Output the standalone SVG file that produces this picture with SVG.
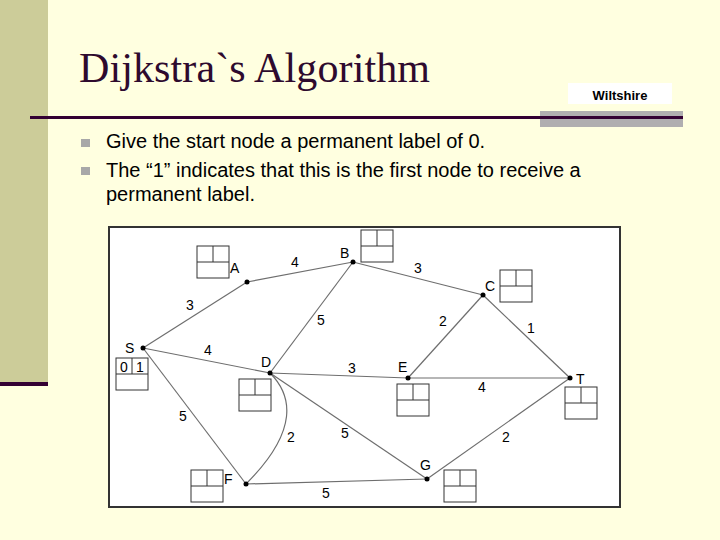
<svg xmlns="http://www.w3.org/2000/svg" width="720" height="540" viewBox="0 0 720 540">
<style>
.edge{fill:none;stroke:#6e6e6e;stroke-width:1.2}
.dot{fill:#000}
.lbl{font-family:"Liberation Sans",Arial,sans-serif;font-size:14px;fill:#000}
.w{font-family:"Liberation Sans",Arial,sans-serif;font-size:14px;fill:#000;text-anchor:middle}
.box{fill:#fff;stroke:#333;stroke-width:1}
.bt{font-family:"Liberation Sans",Arial,sans-serif;font-size:20px;fill:#000}
</style>
<defs>
<g id="lb">
<rect class="box" x="0" y="0" width="32" height="32"/>
<line x1="0" y1="16" x2="32" y2="16" stroke="#333" stroke-width="1"/>
<line x1="16" y1="0" x2="16" y2="16" stroke="#333" stroke-width="1"/>
</g>
</defs>
<rect x="0" y="0" width="720" height="540" fill="#FFFFE0"/>
<rect x="0" y="0" width="48" height="382" fill="#CCCC99"/>
<rect x="0" y="382" width="48" height="4" fill="#330033"/>
<text x="79" y="82" font-family="'Liberation Serif','Times New Roman',serif" font-size="42" fill="#2E0A2E" textLength="351">Dijkstra`s Algorithm</text>
<rect x="568" y="83" width="104" height="21" fill="#fff"/>
<text x="620" y="100" text-anchor="middle" font-family="'Liberation Sans',Arial,sans-serif" font-size="13" font-weight="bold" fill="#000">Wiltshire</text>
<rect x="540" y="111" width="143" height="16" fill="#B0AEB0"/>
<rect x="30" y="116" width="653" height="3" fill="#330033"/>
<rect x="81" y="139" width="9" height="8" fill="#A8A8A8"/>
<rect x="81" y="167" width="9" height="8" fill="#A8A8A8"/>
<text class="bt" x="106" y="148">Give the start node a permanent label of 0.</text>
<text class="bt" x="106" y="177">The “1” indicates that this is the first node to receive a</text>
<text class="bt" x="106" y="201">permanent label.</text>
<rect x="109" y="227" width="511" height="280" fill="#fff" stroke="#333" stroke-width="2"/>
<g id="edges">
<line class="edge" x1="143" y1="348" x2="247" y2="282"/>
<line class="edge" x1="247" y1="282" x2="353" y2="262"/>
<line class="edge" x1="143" y1="348" x2="270" y2="373"/>
<line class="edge" x1="353" y1="262" x2="270" y2="373"/>
<line class="edge" x1="353" y1="262" x2="483" y2="295"/>
<line class="edge" x1="483" y1="295" x2="408" y2="378"/>
<line class="edge" x1="483" y1="295" x2="570" y2="378"/>
<line class="edge" x1="270" y1="373" x2="408" y2="378"/>
<line class="edge" x1="408" y1="378" x2="570" y2="378"/>
<line class="edge" x1="143" y1="348" x2="246" y2="484"/>
<path class="edge" d="M270,373 C292,395 300,430 246,484"/>
<line class="edge" x1="270" y1="373" x2="427" y2="479"/>
<line class="edge" x1="427" y1="479" x2="570" y2="378"/>
<line class="edge" x1="246" y1="484" x2="427" y2="479"/>
<text class="w" x="190" y="310">3</text>
<text class="w" x="295" y="267">4</text>
<text class="w" x="208" y="355">4</text>
<text class="w" x="321" y="325">5</text>
<text class="w" x="418" y="273">3</text>
<text class="w" x="443" y="326">2</text>
<text class="w" x="531" y="333">1</text>
<text class="w" x="352" y="373">3</text>
<text class="w" x="482" y="392">4</text>
<text class="w" x="183" y="421">5</text>
<text class="w" x="291" y="442">2</text>
<text class="w" x="345" y="438">5</text>
<text class="w" x="506" y="442">2</text>
<text class="w" x="326" y="498">5</text>
</g>
<g id="node-S">
<circle class="dot" cx="143" cy="348" r="2.5"/>
<text class="lbl" x="125" y="353">S</text>
<use href="#lb" x="116" y="358"/>
<text x="124" y="372" text-anchor="middle" font-family="'Liberation Sans',Arial,sans-serif" font-size="14">0</text>
<text x="140" y="372" text-anchor="middle" font-family="'Liberation Sans',Arial,sans-serif" font-size="14">1</text>
</g>
<g id="node-A">
<circle class="dot" cx="247" cy="282" r="2.5"/>
<text class="lbl" x="230" y="273">A</text>
<use href="#lb" x="197" y="246"/>
</g>
<g id="node-B">
<circle class="dot" cx="353" cy="262" r="2.5"/>
<text class="lbl" x="340" y="258">B</text>
<use href="#lb" x="361" y="230"/>
</g>
<g id="node-C">
<circle class="dot" cx="483" cy="295" r="2.5"/>
<text class="lbl" x="485" y="291">C</text>
<use href="#lb" x="500" y="270"/>
</g>
<g id="node-D">
<circle class="dot" cx="270" cy="373" r="2.5"/>
<text class="lbl" x="261" y="367">D</text>
<use href="#lb" x="239" y="379"/>
</g>
<g id="node-E">
<circle class="dot" cx="408" cy="378" r="2.5"/>
<text class="lbl" x="398" y="372">E</text>
<use href="#lb" x="397" y="384"/>
</g>
<g id="node-T">
<circle class="dot" cx="570" cy="378" r="2.5"/>
<text class="lbl" x="576" y="384">T</text>
<use href="#lb" x="565" y="387"/>
</g>
<g id="node-F">
<circle class="dot" cx="246" cy="484" r="2.5"/>
<text class="lbl" x="224" y="484">F</text>
<use href="#lb" x="191" y="470"/>
</g>
<g id="node-G">
<circle class="dot" cx="427" cy="479" r="2.5"/>
<text class="lbl" x="420" y="470">G</text>
<use href="#lb" x="444" y="470"/>
</g>
</svg>
